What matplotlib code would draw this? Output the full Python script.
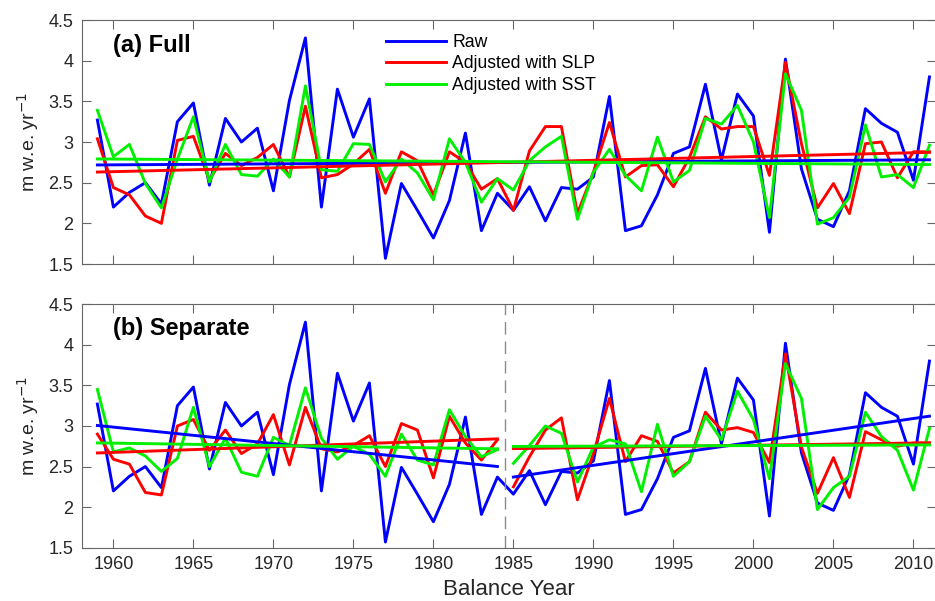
import numpy as np
import matplotlib
matplotlib.use('Agg')  # Non-interactive backend
import matplotlib.pyplot as plt
from matplotlib.ticker import FormatStrFormatter

plt.rcParams['font.family'] = ['Liberation Sans', 'DejaVu Sans']

# Balance years and series (m w.e. yr^-1)
years = np.arange(1959, 2012)
split_year = 1984  # last year of the first period in panel (b)

raw = [3.27, 2.20, 2.38, 2.50, 2.24, 3.25, 3.48, 2.47, 3.29, 3.00,
       3.17, 2.40, 3.51, 4.28, 2.20, 3.65, 3.06, 3.53, 1.57, 2.49,
       2.16, 1.82, 2.28, 3.11, 1.91, 2.37, 2.16, 2.45, 2.03, 2.44,
       2.42, 2.57, 3.56, 1.91, 1.97, 2.35, 2.86, 2.94, 3.71, 2.78,
       3.59, 3.32, 1.89, 4.02, 2.67, 2.05, 1.96, 2.40, 3.41, 3.23,
       3.12, 2.53, 3.80]

slp_full = [3.04, 2.44, 2.35, 2.09, 2.00, 3.02, 3.07, 2.53, 2.86, 2.71,
            2.81, 2.97, 2.57, 3.44, 2.56, 2.60, 2.73, 2.91, 2.37, 2.88,
            2.77, 2.35, 2.88, 2.75, 2.42, 2.55, 2.16, 2.89, 3.19, 3.19,
            2.12, 2.63, 3.24, 2.57, 2.71, 2.72, 2.45, 2.81, 3.31, 3.16,
            3.19, 3.19, 2.59, 3.98, 2.98, 2.19, 2.49, 2.12, 2.98, 3.00,
            2.56, 2.88, 2.88]

sst_full = [3.39, 2.82, 2.97, 2.49, 2.19, 2.79, 3.31, 2.51, 2.97, 2.60,
            2.58, 2.79, 2.57, 3.69, 2.66, 2.64, 2.98, 2.97, 2.51, 2.79,
            2.62, 2.29, 3.04, 2.75, 2.26, 2.55, 2.41, 2.77, 2.94, 3.07,
            2.05, 2.63, 2.91, 2.59, 2.40, 3.06, 2.51, 2.65, 3.29, 3.22,
            3.45, 3.00, 2.07, 3.84, 3.39, 1.99, 2.07, 2.32, 3.21, 2.57,
            2.60, 2.44, 2.96]

slp_sep = [2.90, 2.59, 2.53, 2.18, 2.15, 3.00, 3.08, 2.70, 2.95, 2.66,
           2.78, 3.14, 2.52, 3.23, 2.72, 2.68, 2.76, 2.88, 2.50, 3.03,
           2.95, 2.36, 3.12, 2.79, 2.58, 2.83, 2.25, 2.62, 2.95, 3.10,
           2.09, 2.66, 3.34, 2.56, 2.88, 2.81, 2.42, 2.56, 3.17, 2.95,
           2.98, 2.92, 2.55, 3.89, 2.74, 2.17, 2.61, 2.12, 2.93, 2.83,
           2.75, 2.79, 2.79]

sst_sep = [3.45, 2.68, 2.73, 2.63, 2.44, 2.60, 3.23, 2.50, 2.85, 2.43,
           2.38, 2.86, 2.76, 3.47, 2.85, 2.59, 2.75, 2.65, 2.38, 2.90,
           2.58, 2.52, 3.20, 2.87, 2.62, 2.71, 2.54, 2.76, 3.00, 2.91,
           2.31, 2.74, 2.83, 2.78, 2.19, 3.02, 2.38, 2.56, 3.12, 2.83,
           3.43, 3.08, 2.35, 3.77, 3.34, 1.97, 2.24, 2.38, 3.17, 2.87,
           2.70, 2.21, 2.97]

labels = ['Raw', 'Adjusted with SLP', 'Adjusted with SST']
colors = ['#0000ff', '#ff0000', '#00f000']
LW = 2.1
TEXT_COLOR = '0.15'
SPINE_COLOR = '0.4'


def trend(x, y):
    """Least squares linear trend evaluated at x"""
    p = np.polyfit(x, y, 1)
    return np.polyval(p, x)


def style_axis(ax):
    ax.set_xlim(1958.02, 2011.4)
    ax.set_ylim(1.5, 4.5)
    ax.set_xticks(np.arange(1960, 2011, 5))
    ax.set_yticks(np.arange(1.5, 4.51, 0.5))
    ax.yaxis.set_major_formatter(FormatStrFormatter('%g'))
    ax.tick_params(direction='in', length=6.5, width=0.8, top=True, right=True,
                   labelsize=13, color=SPINE_COLOR, labelcolor=TEXT_COLOR, pad=6)
    for s in ax.spines.values():
        s.set_color(SPINE_COLOR)
        s.set_linewidth(0.8)
    ax.set_ylabel('m w.e. yr$^{-1}$', fontsize=14, color=TEXT_COLOR)
    ax.yaxis.set_label_coords(-0.048, 0.5)


fig = plt.figure(figsize=(9.35, 6.01), dpi=100)
ax1 = fig.add_axes([0.0874, 0.5607, 0.9135, 0.406])
ax2 = fig.add_axes([0.0874, 0.0887, 0.9135, 0.405])

# (a) Full record adjusted as one period
series_full = [raw, slp_full, sst_full]
for y, c, lab in zip(series_full, colors, labels):
    ax1.plot(years, y, color=c, lw=LW, label=lab)
for y, c in zip(series_full, colors):
    ax1.plot(years, trend(years, np.array(y)), color=c, lw=LW)

style_axis(ax1)
ax1.tick_params(labelbottom=False)
ax1.text(0.037, 0.869, '(a) Full', transform=ax1.transAxes, fontsize=17,
         fontweight='bold', va='baseline')
ax1.legend(loc='upper left', bbox_to_anchor=(0.352, 0.957), frameon=False,
           fontsize=12.7, handlelength=3.4, handletextpad=0.35, labelspacing=0.25,
           borderaxespad=0, borderpad=0.2)

# (b) Two periods adjusted separately
early = years <= split_year
late = years > split_year
ax2.plot(years, raw, color=colors[0], lw=LW)
for y, c in zip([slp_sep, sst_sep], colors[1:]):
    y = np.array(y)
    ax2.plot(years[early], y[early], color=c, lw=LW)
    ax2.plot(years[late], y[late], color=c, lw=LW)
for y, c in zip([raw, slp_sep, sst_sep], colors):
    y = np.array(y)
    ax2.plot(years[early], trend(years[early], y[early]), color=c, lw=LW)
    ax2.plot(years[late], trend(years[late], y[late]), color=c, lw=LW)
ax2.axvline(split_year + 0.5, color='0.55', lw=1.0, dashes=(9, 5))

style_axis(ax2)
ax2.text(0.037, 0.874, '(b) Separate', transform=ax2.transAxes, fontsize=17,
         fontweight='bold', va='baseline')
ax2.set_xlabel('Balance Year', fontsize=16, color=TEXT_COLOR, labelpad=4)

fig.savefig('out.png', dpi=100)
